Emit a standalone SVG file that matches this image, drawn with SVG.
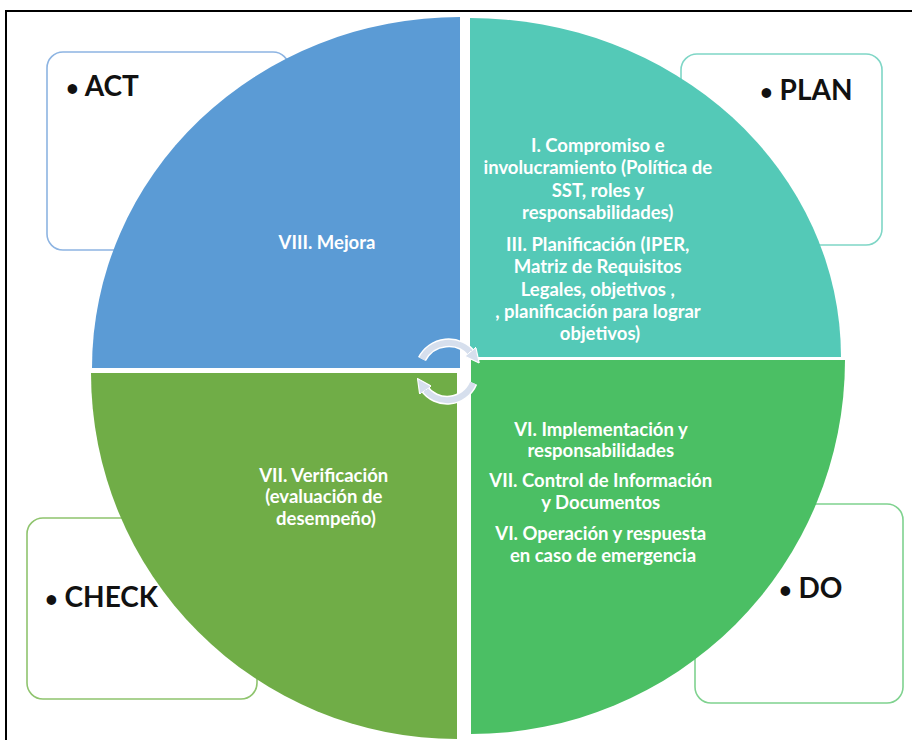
<svg xmlns="http://www.w3.org/2000/svg" width="912" height="740" viewBox="0 0 912 740">
<defs>
<style>
.box{fill:#ffffff;stroke-width:1.6}
.lbl{font-family:Lato,"Liberation Sans",sans-serif;font-weight:bold;font-size:28px;fill:#111111}
.bul{font-size:22px}
.body{font-family:Lato,"Liberation Sans",sans-serif;font-weight:bold;font-size:18.5px;fill:#ffffff;text-anchor:middle}
.arc{fill:none;stroke:#d6dfed;stroke-width:6}
.halo{fill:none;stroke:#ffffff;stroke-width:9}
</style>
<marker id="ah" viewBox="0 0 10 10" refX="2" refY="5" markerWidth="2.4" markerHeight="2.4" orient="auto">
<path d="M0,0 L10,5 L0,10 z" fill="#d6dfed" stroke="#ffffff" stroke-width="0.8"/>
</marker>
</defs>
<rect x="0" y="0" width="912" height="740" fill="#ffffff"/>
<rect x="6" y="11" width="930" height="760" fill="none" stroke="#000000" stroke-width="2"/>

<g id="act-box">
<rect class="box" x="47" y="52" width="242" height="198" rx="16" stroke="#8db4e2"/>
<text class="lbl" x="66" y="96"><tspan class="bul">•</tspan> ACT</text>
</g>
<g id="plan-box">
<rect class="box" x="681" y="54" width="201" height="191" rx="16" stroke="#7fd6c6"/>
<text class="lbl" x="760" y="100"><tspan class="bul">•</tspan> PLAN</text>
</g>
<g id="check-box">
<rect class="box" x="27" y="518" width="230" height="181" rx="16" stroke="#8fc46e"/>
<text class="lbl" x="45" y="607"><tspan class="bul">•</tspan> CHECK</text>
</g>
<g id="do-box">
<rect class="box" x="695" y="504" width="208" height="199" rx="16" stroke="#7fd28f"/>
<text class="lbl" x="779" y="598"><tspan class="bul">•</tspan> DO</text>
</g>

<g id="act">
<path d="M460,368 L92,368 A368,351 0 0 1 460,17 Z" fill="#5b9bd5"/>
<text class="body" x="327" y="249">VIII. Mejora</text>
</g>
<g id="plan">
<path d="M470,357 L470,18 A371,339 0 0 1 841,357 Z" fill="#54c9b7"/>
<text class="body">
<tspan x="600" y="152">I. Compromiso e</tspan>
<tspan x="600" y="174">involucramiento (Política de</tspan>
<tspan x="600" y="197">SST, roles y</tspan>
<tspan x="600" y="219">responsabilidades)</tspan>
<tspan x="600" y="251">III. Planificación (IPER,</tspan>
<tspan x="600" y="273">Matriz de Requisitos</tspan>
<tspan x="600" y="296">Legales, objetivos ,</tspan>
<tspan x="600" y="318">, planificación para lograr</tspan>
<tspan x="600" y="340">objetivos)</tspan>
</text>
</g>
<g id="do">
<path d="M471,360 L845,360 A374,374 0 0 1 471,734 Z" fill="#4bbf64"/>
<text class="body">
<tspan x="603" y="436">VI. Implementación y</tspan>
<tspan x="603" y="457">responsabilidades</tspan>
<tspan x="603" y="487">VII. Control de Información</tspan>
<tspan x="603" y="509">y Documentos</tspan>
<tspan x="603" y="540">VI. Operación y respuesta</tspan>
<tspan x="603" y="562">en caso de emergencia</tspan>
</text>
</g>
<g id="check">
<path d="M457,373 L457,739 A366,366 0 0 1 91,373 Z" fill="#70ad47"/>
<text class="body">
<tspan x="326" y="482">VII. Verificación</tspan>
<tspan x="326" y="503">(evaluación de</tspan>
<tspan x="326" y="525">desempeño)</tspan>
</text>
</g>

<g id="connectors">
<path class="halo" d="M422,359 A30,30 0 0 1 472,354"/>
<path class="arc" d="M422,359 A30,30 0 0 1 472,354" marker-end="url(#ah)"/>
<path class="halo" d="M473,383 A28,28 0 0 1 424,388"/>
<path class="arc" d="M473,383 A28,28 0 0 1 424,388" marker-end="url(#ah)"/>
</g>
</svg>
